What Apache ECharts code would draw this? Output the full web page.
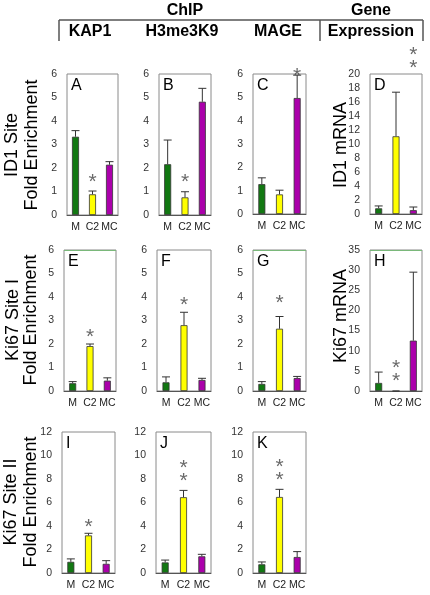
<!DOCTYPE html>
<html><head><meta charset="utf-8">
<script src="https://cdn.jsdelivr.net/npm/echarts@6/dist/echarts.min.js"></script>
<style>html,body{margin:0;padding:0;background:#fff}#c{width:430px;height:595px}</style>
</head><body><div id="c"></div>
<script>
// ---------- data ----------
const categories = ['M', 'C2', 'MC'];
const panelIds = ['A', 'B', 'C', 'D', 'E', 'F', 'G', 'H', 'I', 'J', 'K'];
const yMax  = [6, 6, 6, 20, 6, 6, 6, 35, 12, 12, 12];
const yStep = [1, 1, 1, 2, 1, 1, 1, 5, 2, 2, 2];

const valuesA = [3.33, 0.88, 2.14]; const upperA = [3.59, 1.02, 2.27];
const valuesB = [2.16, 0.75, 4.82]; const upperB = [3.19, 0.99, 5.39];
const valuesC = [1.28, 0.84, 4.97]; const upperC = [1.55, 1.02, 5.95];
const valuesD = [0.81, 11.1, 0.55]; const upperD = [1.15, 17.4, 1.0];
const valuesE = [0.33, 1.91, 0.44]; const upperE = [0.40, 2.00, 0.56];
const valuesF = [0.37, 2.80, 0.47]; const upperF = [0.60, 3.35, 0.54];
const valuesG = [0.30, 2.65, 0.55]; const upperG = [0.40, 3.17, 0.62];
const valuesH = [2.0, 0, 12.5];     const upperH = [4.7, null, 29.5];
const valuesI = [0.95, 3.2, 0.78];  const upperI = [1.2, 3.38, 1.05];
const valuesJ = [0.9, 6.45, 1.42];  const upperJ = [1.1, 7.03, 1.59];
const valuesK = [0.74, 6.47, 1.36]; const upperK = [0.94, 7.12, 1.82];

// significance markers: [category index, value, text]
const starsA = [[1, 1.62, '*']];
const starsB = [[1, 1.62, '*']];
const starsC = [[2, 6.1, '*']];
const starsD = [[2, 22.4, '*\n*']];
const starsE = [[1, 2.5, '*']];
const starsF = [[1, 3.87, '*']];
const starsG = [[1, 3.96, '*']];
const starsH = [[1, 5.2, '*\n*']];
const starsI = [[1, 4.3, '*']];
const starsJ = [[1, 8.8, '*\n*']];
const starsK = [[1, 8.85, '*\n*']];

const rowLabels = [['ID1 Site', 'Fold Enrichment'], ['Ki67 Site I', 'Fold Enrichment'], ['Ki67 Site II', 'Fold Enrichment']];
const mrnaLabels = ['ID1 mRNA', 'Ki67 mRNA'];
const headerTop = ['ChIP', 'Gene'];
const headerSub = ['KAP1', 'H3me3K9', 'MAGE', 'Expression'];
const greenTopPanels = ['E', 'G', 'H'];

const barColors = ['#127812', '#ffff00', '#ab00ab'];

// ---------- layout ----------
const gridBoxes = [
  [67, 74, 51, 141], [159, 74, 52, 141], [253, 74, 53, 140], [370, 74, 52, 140],
  [64, 250, 52, 141], [157, 250, 54, 141], [253, 250, 53, 141], [370, 250, 52, 141],
  [62, 432, 53, 141], [156, 432, 55, 141], [253, 432, 53, 141]
];
const valuesAll = [valuesA, valuesB, valuesC, valuesD, valuesE, valuesF, valuesG, valuesH, valuesI, valuesJ, valuesK];
const upperAll = [upperA, upperB, upperC, upperD, upperE, upperF, upperG, upperH, upperI, upperJ, upperK];
const starsAll = [starsA, starsB, starsC, starsD, starsE, starsF, starsG, starsH, starsI, starsJ, starsK];

const FONT = '"Liberation Sans", Arial, sans-serif';
const grids = [], xAxes = [], yAxes = [], series = [], graphics = [];

panelIds.forEach((id, i) => {
  const b = gridBoxes[i];
  grids.push({ left: b[0], top: b[1], width: b[2], height: b[3], show: true, borderColor: '#8a8a8a', borderWidth: 1, backgroundColor: 'transparent' });
  xAxes.push({
    type: 'category', gridIndex: i, data: categories,
    axisLine: { show: true, lineStyle: { color: '#555', width: 1 } },
    axisTick: { show: false },
    axisLabel: { color: '#222', fontSize: 10.5, fontFamily: FONT, margin: 7, interval: 0 }
  });
  yAxes.push({
    type: 'value', gridIndex: i, min: 0, max: yMax[i], interval: yStep[i],
    axisLine: { show: false }, axisTick: { show: false }, splitLine: { show: false },
    axisLabel: { color: '#333', fontSize: 10.5, fontFamily: FONT, margin: 10 }
  });
  const barSeries = {
    type: 'bar', xAxisIndex: i, yAxisIndex: i, barWidth: 7,
    data: valuesAll[i].map((v, k) => ({ value: v, itemStyle: { color: barColors[k] } })),
    itemStyle: { borderColor: '#333', borderWidth: 0.8 },
    silent: true, animation: false
  };
  if (greenTopPanels.includes(id)) {
    barSeries.markLine = {
      silent: true, symbol: 'none', label: { show: false },
      lineStyle: { color: '#7ab87a', width: 1, type: 'solid' },
      data: [{ yAxis: yMax[i] }]
    };
  }
  series.push(barSeries);
  series.push({
    type: 'custom', xAxisIndex: i, yAxisIndex: i, animation: false, silent: true, z: 5,
    data: valuesAll[i].map((v, k) => [k, v, upperAll[i][k]]).filter(d => d[2] != null),
    renderItem: function (params, api) {
      const p0 = api.coord([api.value(0), api.value(1)]);
      const p1 = api.coord([api.value(0), api.value(2)]);
      const st = { stroke: '#333', lineWidth: 1 };
      return { type: 'group', children: [
        { type: 'line', shape: { x1: p0[0], y1: p0[1], x2: p1[0], y2: p1[1] }, style: st },
        { type: 'line', shape: { x1: p1[0] - 4, y1: p1[1], x2: p1[0] + 4, y2: p1[1] }, style: st }
      ]};
    }
  });
  series.push({
    type: 'scatter', xAxisIndex: i, yAxisIndex: i, clip: false, silent: true, animation: false, z: 6,
    symbolSize: 1, itemStyle: { color: 'rgba(0,0,0,0)' },
    data: starsAll[i].map(s => ({ value: [s[0], s[1]], name: s[2] })),
    label: { show: true, position: 'inside', formatter: p => p.name, fontSize: 21, lineHeight: 13, color: '#444', fontFamily: FONT, offset: [0, 5] }
  });
  graphics.push({ type: 'text', x: b[0] + 4, y: b[1] + 4, z: 10,
    style: { text: id, font: '16px ' + FONT, fill: '#000', align: 'left', verticalAlign: 'top' } });
});

// row labels
const rowY = [145, 320, 502];
const rowX = [[12, 32], [13, 31], [11, 31]];
rowLabels.forEach((lines, r) => {
  lines.forEach((t, j) => {
    graphics.push({ type: 'text', x: rowX[r][j], y: rowY[r], rotation: Math.PI / 2,
      style: { text: t, font: '18px ' + FONT, fill: '#000', align: 'center', verticalAlign: 'middle' } });
  });
});
const mrnaY = [145, 316];
mrnaLabels.forEach((t, r) => {
  graphics.push({ type: 'text', x: 341, y: mrnaY[r], rotation: Math.PI / 2,
    style: { text: t, font: '18px ' + FONT, fill: '#000', align: 'center', verticalAlign: 'middle' } });
});
// headers
const headTopX = [185, 371];
headerTop.forEach((t, k) => graphics.push({ type: 'text', x: headTopX[k], y: 11,
  style: { text: t, font: 'bold 16px ' + FONT, fill: '#000', align: 'center', verticalAlign: 'middle' } }));
const headSubX = [90, 182, 278, 371];
headerSub.forEach((t, k) => graphics.push({ type: 'text', x: headSubX[k], y: 32,
  style: { text: t, font: 'bold 16px ' + FONT, fill: '#000', align: 'center', verticalAlign: 'middle' } }));
const lineStyle = { stroke: '#555', lineWidth: 1.5 };
graphics.push({ type: 'line', shape: { x1: 59, y1: 20, x2: 423, y2: 20 }, style: lineStyle });
[59, 320, 423].forEach(x => graphics.push({ type: 'line', shape: { x1: x, y1: 20, x2: x, y2: 41 }, style: lineStyle }));

const chart = echarts.init(document.getElementById('c'), null, { renderer: 'canvas' });
chart.setOption({
  animation: false, backgroundColor: '#fff',
  grid: grids, xAxis: xAxes, yAxis: yAxes, series: series, graphic: graphics
});
</script></body></html>
